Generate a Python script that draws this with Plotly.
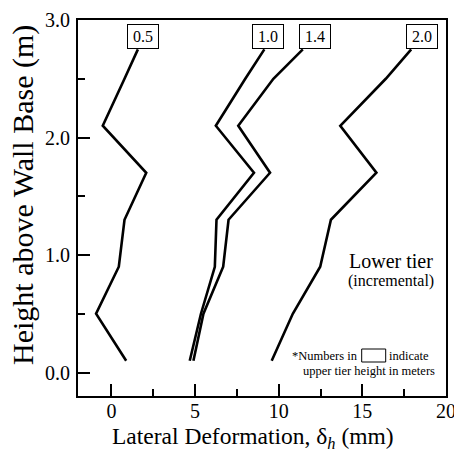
import plotly.graph_objects as go

# ---- data ----
heights = [0.1, 0.5, 0.9, 1.3, 1.7, 2.1, 2.5, 2.75]
upper_tier = ["0.5", "1.0", "1.4", "2.0"]
defl_05 = [0.88, -0.92, 0.44, 0.78, 2.08, -0.52, 0.78, 1.58]
defl_10 = [4.68, 5.35, 6.18, 6.28, 8.52, 6.24, 8.0, 9.14]
defl_14 = [4.90, 5.50, 6.68, 7.00, 9.48, 7.58, 9.68, 11.44]
defl_20 = [9.58, 10.84, 12.48, 13.12, 15.84, 13.68, 16.4, 17.92]
series = [defl_05, defl_10, defl_14, defl_20]

# label box anchor (x in data units)
label_x = [1.86, 9.36, 12.18, 18.57]
label_y = 2.86

FONT = "Liberation Serif"

fig = go.Figure()
for name, xs in zip(upper_tier, series):
    fig.add_trace(go.Scatter(x=xs, y=heights, mode="lines", name=name,
                             line=dict(color="black", width=2.6),
                             showlegend=False, hoverinfo="skip"))

W, H = 454, 457
L, R, T, B = 78, 8, 20, 61
pw, ph = W - L - R, H - T - B

def px(xp):
    return (xp - L) / pw

def py(yp):
    return (H - B - yp) / ph

def note(x, y, text, size, xanchor="center", **kw):
    return dict(x=px(x), y=py(y), xref="paper", yref="paper", text=text,
                xanchor=xanchor, yanchor="middle", showarrow=False,
                font=dict(family=FONT, size=size, color="black"), **kw)

annotations = []
for lab, lx in zip(upper_tier, label_x):
    annotations.append(dict(x=lx, y=label_y, xref="x", yref="y", text=lab,
                            xanchor="center", yanchor="middle",
                            showarrow=False, font=dict(family=FONT, size=16, color="black"),
                            bgcolor="white", bordercolor="black", borderwidth=1,
                            width=30, height=23, borderpad=0))

annotations += [
    note(391, 261, "Lower tier", 20),
    note(391, 281, "(incremental)", 16),
    note(360, 356, "*Numbers in", 12.5, xanchor="right"),
    note(387, 356, "indicate", 12.5, xanchor="left"),
    note(437, 371, "upper tier height in meters", 12.5, xanchor="right"),
    note(253, 438, "Lateral Deformation, δ<sub><i>h</i></sub> (mm)", 23.5),
    note(23, 195, "Height above Wall Base (m)", 30, textangle=-90),
]

shapes = [dict(type="rect", xref="paper", yref="paper",
               x0=px(361.7), x1=px(385.7), y0=py(362), y1=py(349),
               line=dict(color="black", width=1))]

axis_common = dict(showline=True, linecolor="black", linewidth=2, mirror=True,
                   showgrid=False, zeroline=False, ticks="inside", ticklen=12,
                   tickwidth=2, tickcolor="black", automargin=False,
                   ticklabeloverflow="allow",
                   tickfont=dict(family=FONT, size=20, color="black"))

fig.update_layout(
    width=W, height=H,
    margin=dict(l=L, r=R, t=T, b=B),
    paper_bgcolor="white", plot_bgcolor="white",
    xaxis=dict(range=[-2, 20], tickmode="linear", tick0=0, dtick=5,
               minor=dict(dtick=2.5, tick0=0, ticks="inside", ticklen=7,
                          tickwidth=2, tickcolor="black"),
               ticklabelstandoff=-4, **axis_common),
    yaxis=dict(range=[-0.2, 3.0], tickmode="linear", tick0=0, dtick=1,
               tickformat=".1f",
               minor=dict(dtick=0.5, tick0=0, ticks="inside", ticklen=7,
                          tickwidth=2, tickcolor="black"),
               ticklabelstandoff=2, **axis_common),
    annotations=annotations, shapes=shapes,
)

fig.write_html("out.html", config={"displayModeBar": False},
               post_script="document.body.style.margin='0';document.body.style.overflow='hidden';")
